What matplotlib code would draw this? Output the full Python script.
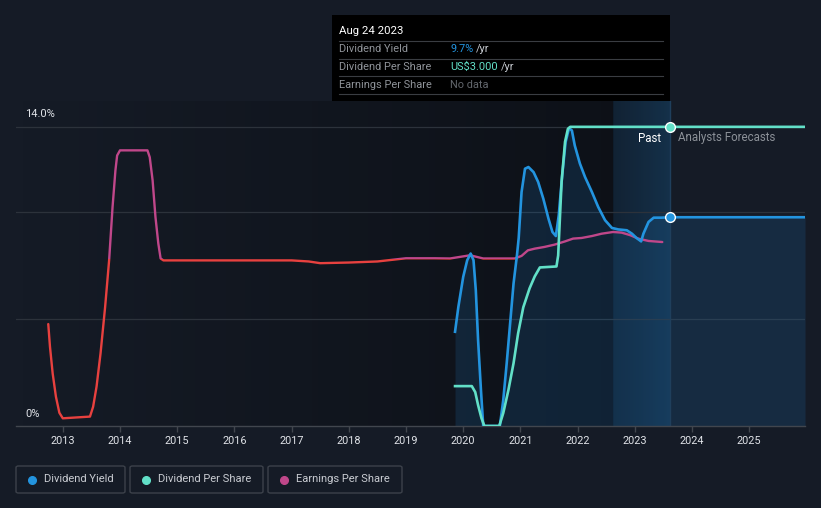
import numpy as np
import matplotlib
matplotlib.use("Agg")
import matplotlib.pyplot as plt
from matplotlib.patches import Rectangle, FancyBboxPatch
from matplotlib.colors import LinearSegmentedColormap
from matplotlib.lines import Line2D

plt.rcParams['font.family'] = ['Roboto', 'DejaVu Sans']

# ---------------- data ----------------
eps_years = [2012.746, 2012.776, 2012.823, 2012.88, 2012.94, 2013.0, 2013.475, 2013.53, 2013.59,
             2013.66, 2013.74, 2013.81, 2013.87, 2013.92, 2013.95, 2014.0, 2014.48, 2014.52,
             2014.57, 2014.62, 2014.67, 2014.71, 2014.76, 2015.0, 2016.0, 2017.0, 2017.3,
             2017.5, 2018.0, 2018.5, 2019.0, 2019.5, 2019.77, 2020.12, 2020.35, 2020.9, 2021.02,
             2021.13, 2021.25, 2021.42, 2021.6, 2021.78, 2021.92, 2022.07, 2022.25, 2022.42,
             2022.62, 2022.77, 2022.92, 2023.06, 2023.24, 2023.48]
eps_vals = [4.77, 3.71, 2.46, 1.37, 0.62, 0.36, 0.44, 0.90, 1.84,
            3.40, 5.57, 7.76, 10.25, 11.96, 12.66, 12.9, 12.9, 12.58,
            11.5, 9.78, 8.54, 7.84, 7.75, 7.75, 7.75, 7.75, 7.7,
            7.62, 7.65, 7.7, 7.85, 7.85, 7.84, 7.99, 7.84, 7.84, 7.96,
            8.22, 8.3, 8.38, 8.49, 8.64, 8.77, 8.8, 8.89, 9.0,
            9.08, 9.05, 8.93, 8.77, 8.66, 8.61]

dy_years = [2019.857, 2019.915, 2020.0, 2020.07, 2020.13, 2020.18, 2020.22, 2020.26, 2020.31,
            2020.35, 2020.64, 2020.70, 2020.76, 2020.82, 2020.88, 2020.94, 2020.97, 2021.02,
            2021.08, 2021.14, 2021.23, 2021.31, 2021.4, 2021.49, 2021.56, 2021.62, 2021.67,
            2021.73, 2021.79, 2021.85, 2021.9, 2021.95, 2022.04, 2022.13, 2022.25, 2022.36,
            2022.48, 2022.6, 2022.71, 2022.86, 2022.95, 2023.03, 2023.11, 2023.15, 2023.24,
            2023.33, 2023.47, 2023.615, 2025.975]
dy_vals = [4.41, 5.57, 6.98, 7.76, 8.07, 7.76, 6.36, 4.02, 1.68,
           0.0, 0.0, 1.21, 2.93, 4.8, 6.67, 8.0, 8.8, 10.95,
           12.04, 12.12, 11.88, 11.42, 10.64, 9.71, 9.08, 8.89, 9.86,
           11.73, 13.29, 13.94, 13.83, 13.13, 12.28, 11.65, 10.95, 10.25,
           9.63, 9.27, 9.2, 9.16, 9.0, 8.8, 8.64, 9.0, 9.55,
           9.75, 9.75, 9.77, 9.77]

dps_years = [2019.857, 2020.15, 2020.21, 2020.26, 2020.32, 2020.37, 2020.63, 2020.70, 2020.79,
             2020.88, 2020.96, 2021.05, 2021.16, 2021.25, 2021.34, 2021.63, 2021.66, 2021.72,
             2021.78, 2021.83, 2021.87, 2025.975]
dps_vals = [0.40, 0.40, 0.34, 0.21, 0.077, 0.0, 0.0, 0.13, 0.36,
            0.63, 0.93, 1.19, 1.38, 1.50, 1.59, 1.60, 1.71, 2.45,
            2.85, 2.98, 3.0, 3.0]

year_ticks = list(range(2013, 2026))
today = 2023.615
forecast_band_start = 2022.62

# ---------------- style ----------------
BG = '#151b26'
BLUE = '#2394df'
TEAL = '#62e0c8'
RED = '#e8413f'
MAG = '#c0478a'
GRID = '#2c323b'
W, H = 821, 508

fig = plt.figure(figsize=(W / 100, H / 100), dpi=100, facecolor=BG)

x0, x1 = 2012.182, 2025.975
ymax = 15.21
ax = fig.add_axes([16 / W, (H - 426) / H, (805 - 16) / W, (426 - 101) / H])
ax.set_facecolor(BG)

# darkening of the past region (gradient)
dark = LinearSegmentedColormap.from_list('dk', [(0, 0, 0, 0.0), (0, 0, 0, 0.38)])
ax.imshow(np.linspace(0, 1, 256).reshape(1, -1), cmap=dark, extent=[x0, forecast_band_start, 0, ymax],
          aspect='auto', zorder=0, interpolation='bilinear')
band = LinearSegmentedColormap.from_list('bd', [(0.06, 0.16, 0.25, 0.55), (0.08, 0.24, 0.37, 0.65)])
ax.imshow(np.linspace(0, 1, 256).reshape(1, -1), cmap=band, extent=[forecast_band_start, today, 0, ymax],
          aspect='auto', zorder=0.5, interpolation='bilinear')

# grid lines
for g in [5, 10, 14]:
    ax.axhline(g, color=GRID, lw=0.9, zorder=1)

# fill under dividend yield
ax.fill_between(dy_years, 0, dy_vals, color='#1f6fb0', alpha=0.2, lw=0, zorder=1.5)

# EPS line coloured by level
thr = 7.8
kw = dict(lw=1.7, zorder=3, solid_capstyle='round', solid_joinstyle='round')
l_red, = ax.plot(eps_years, eps_vals, color=RED, **kw)
l_red.set_clip_path(Rectangle((x0 - 1, -5), 20, thr + 5, transform=ax.transData))
l_mag, = ax.plot(eps_years, eps_vals, color=MAG, **kw)
l_mag.set_clip_path(Rectangle((x0 - 1, thr), 20, 20, transform=ax.transData))

# dividend yield
ax.plot(dy_years, dy_vals, color=BLUE, lw=1.9, zorder=4, solid_joinstyle='round')

# today line
ax.axvline(today, color='#1f3f5c', lw=1.0, zorder=2)

ax.set_xlim(x0, x1)
ax.set_ylim(0, ymax)
for s in ['top', 'right', 'left']:
    ax.spines[s].set_visible(False)
ax.spines['bottom'].set_color('#41464e')
ax.spines['bottom'].set_linewidth(1.0)
ax.set_yticks([])
ax.set_xticks(year_ticks)
ax.set_xticklabels([str(y) for y in year_ticks])
ax.tick_params(axis='x', colors='#41464e', length=4, width=1, labelcolor='#e0e3e8', labelsize=7.8, pad=3)

# dividend per share on its own (hidden) scale
ax2 = ax.twinx()
ax2.set_ylim(0, ymax * 3.0 / 14.0)
ax2.set_xlim(x0, x1)
ax2.plot(dps_years, dps_vals, color=TEAL, lw=1.9, zorder=4, solid_joinstyle='round')
ax2.plot([today], [3.0], marker='o', ms=7, mfc=TEAL, mec='white', mew=1.0, zorder=6, clip_on=False)
ax2.axis('off')
ax2.plot([today], [np.interp(today, dy_years, dy_vals) * 3.0 / 14.0], marker='o', ms=7, mfc=BLUE,
         mec='white', mew=1.0, zorder=6)


def fy(py):
    return 1 - py / H


def fx(px):
    return px / W


# y labels
fig.text(fx(25), fy(114), '14.0%', color='#e0e3e8', fontsize=8, va='center', ha='left')
fig.text(fx(25), fy(414), '0%', color='#e0e3e8', fontsize=8, va='center', ha='left')

# past / forecast labels
fig.text(fx(661), fy(138), 'Past', color='#ffffff', fontsize=8.3, va='center', ha='right')
fig.text(fx(678), fy(138), 'Analysts Forecasts', color='#8c9198', fontsize=8.3, va='center', ha='left')

# tooltip
fig.patches.append(Rectangle((fx(332), fy(101)), (670 - 332) / W, 86 / H, transform=fig.transFigure,
                             facecolor='#000000', edgecolor='none', zorder=10))
fig.text(fx(339), fy(31), 'Aug 24 2023', color='#ffffff', fontsize=8.2, va='center', ha='left', zorder=11)
for ly in [41, 58.5, 76, 93.5]:
    fig.lines.append(Line2D([fx(339), fx(663)], [fy(ly), fy(ly)], transform=fig.transFigure,
                            color='#3a3d42', lw=0.8, zorder=11))
rows = [('Dividend Yield', '9.7%', BLUE, True),
        ('Dividend Per Share', 'US$3.000', TEAL, True),
        ('Earnings Per Share', 'No data', '#62666c', False)]
row_y = [49.5, 67, 84.5]
val_texts = []
for (lab, val, col, yr), yy in zip(rows, row_y):
    fig.text(fx(339), fy(yy), lab, color='#8f9399', fontsize=7.9, va='center', ha='left', zorder=11)
    t = fig.text(fx(450), fy(yy), val, color=col, fontsize=7.9, va='center', ha='left', zorder=11)
    val_texts.append((t, yr, yy))
fig.canvas.draw()
r = fig.canvas.get_renderer()
for t, yr, yy in val_texts:
    if yr:
        bb = t.get_window_extent(renderer=r)
        fig.text((bb.x1 + 3) / W, fy(yy), '/yr', color='#c8ccd2', fontsize=7.9, va='center', ha='left', zorder=11)

# legend
leg = [('Dividend Yield', BLUE, 16, 125, 31.5, 44),
       ('Dividend Per Share', TEAL, 130, 263, 145.5, 158),
       ('Earnings Per Share', MAG, 268, 402, 284, 296)]
for lab, col, bx0, bx1, dx, tx in leg:
    fig.patches.append(FancyBboxPatch((fx(bx0), fy(493)), (bx1 - bx0) / W, 27 / H,
                                      boxstyle='round,pad=0,rounding_size=0.003', transform=fig.transFigure,
                                      facecolor='none', edgecolor='#3c414a', lw=1.0))
    fig.lines.append(Line2D([fx(dx)], [fy(479.5)], transform=fig.transFigure, marker='o', ms=5.5,
                            mfc=col, mec=col, lw=0))
    fig.text(fx(tx), fy(479.5), lab, color='#c9ccd2', fontsize=8, va='center', ha='left')

fig.savefig('out.png', dpi=100, facecolor=BG)
